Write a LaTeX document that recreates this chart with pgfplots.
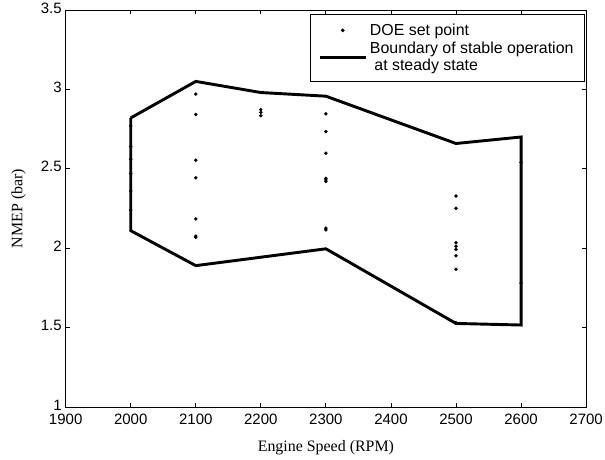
\documentclass[border=0pt]{standalone}
\usepackage{fontspec}
\setmainfont{Liberation Serif}
\newfontfamily\arialfont{Liberation Sans}
\usepackage{pgfplots}
\usepackage{pgfplotstable}
\pgfplotsset{compat=1.18}

% Legend samples: a single centred dot, and a long line
\pgfplotsset{
  dotlegend/.style={legend image code/.code={\draw[mark repeat=2,mark phase=2,##1]
    plot coordinates {(0cm,0cm) (0.61cm,0cm) (1.22cm,0cm)};}},
  linelegend/.style={legend image code/.code={\draw[##1] (0cm,0cm) -- (1.22cm,0cm);}},
}

% DOE set points (engine speed, NMEP)
\pgfplotstableread{
rpm nmep
2000 2.77
2000 2.64
2000 2.56
2000 2.47
2000 2.36
2000 2.24
2100 2.970
2100 2.842
2100 2.554
2100 2.443
2100 2.184
2100 2.076
2100 2.068
2200 2.872
2200 2.855
2200 2.834
2300 2.846
2300 2.734
2300 2.598
2300 2.440
2300 2.430
2300 2.420
2300 2.126
2300 2.115
2500 2.328
2500 2.251
2500 2.034
2500 2.012
2500 1.992
2500 1.952
2500 1.867
2500 1.530
2600 2.540
2600 1.780
}\doepoints

% Boundary of stable operation at steady state (closed polygon)
\pgfplotstableread{
rpm nmep
2000 2.820
2100 3.050
2200 2.980
2300 2.957
2500 2.659
2600 2.700
2600 1.516
2500 1.526
2300 1.996
2100 1.890
2000 2.110
2000 2.820
}\boundary

\begin{document}
\begin{tikzpicture}
\begin{axis}[
  name=ax,
  width=392.25pt, height=299.25pt, scale only axis,
  xmin=1900, xmax=2700, ymin=1, ymax=3.5,
  xtick={1900,2000,...,2700},
  ytick={1,1.5,2,2.5,3,3.5},
  xticklabels={1900,2000,2100,2200,2300,2400,2500,2600,2700},
  yticklabels={1,1.5,2,2.5,3,3.5},
  tick align=inside, xtick pos=both, ytick pos=both,
  major tick length=3.2pt,
  axis line style={line width=0.6pt},
  every tick/.style={black, line width=0.6pt},
  ticklabel style={font=\arialfont\fontsize{11.3}{13}\selectfont},
  xticklabel style={yshift=-1.5pt},
  yticklabel style={yshift=1.5pt, xshift=0.5pt},
  /pgf/number format/assume math mode=true,
  xlabel={Engine Speed (RPM)},
  ylabel={NMEP (bar)},
  label style={font=\fontsize{12}{14}\selectfont},
  xlabel style={yshift=-5pt},
  ylabel style={yshift=4.5pt},
  legend style={at={(0.997,0.99)}, anchor=north east,
    font=\arialfont\fontsize{12}{13}\selectfont,
    draw=black, line width=0.6pt, inner xsep=6pt, inner ysep=5pt,
    nodes={align=left}, row sep=-0.5pt},
  legend cell align=left,
]
\addplot[only marks, mark=*, mark size=1.1pt, black, dotlegend]
  table[x=rpm, y=nmep] {\doepoints};
\addlegendentry{DOE set point}
\addplot[black, line width=2.2pt, line join=miter, linelegend]
  table[x=rpm, y=nmep] {\boundary};
\addlegendentry{Boundary of stable operation\\\hspace*{0.28em}at steady state}
\end{axis}
\pgfresetboundingbox
\path[use as bounding box] ([shift={(-49.5pt,-39.75pt)}]ax.south west)
  rectangle ([shift={(14.25pt,7.5pt)}]ax.north east);
\end{tikzpicture}
\end{document}
